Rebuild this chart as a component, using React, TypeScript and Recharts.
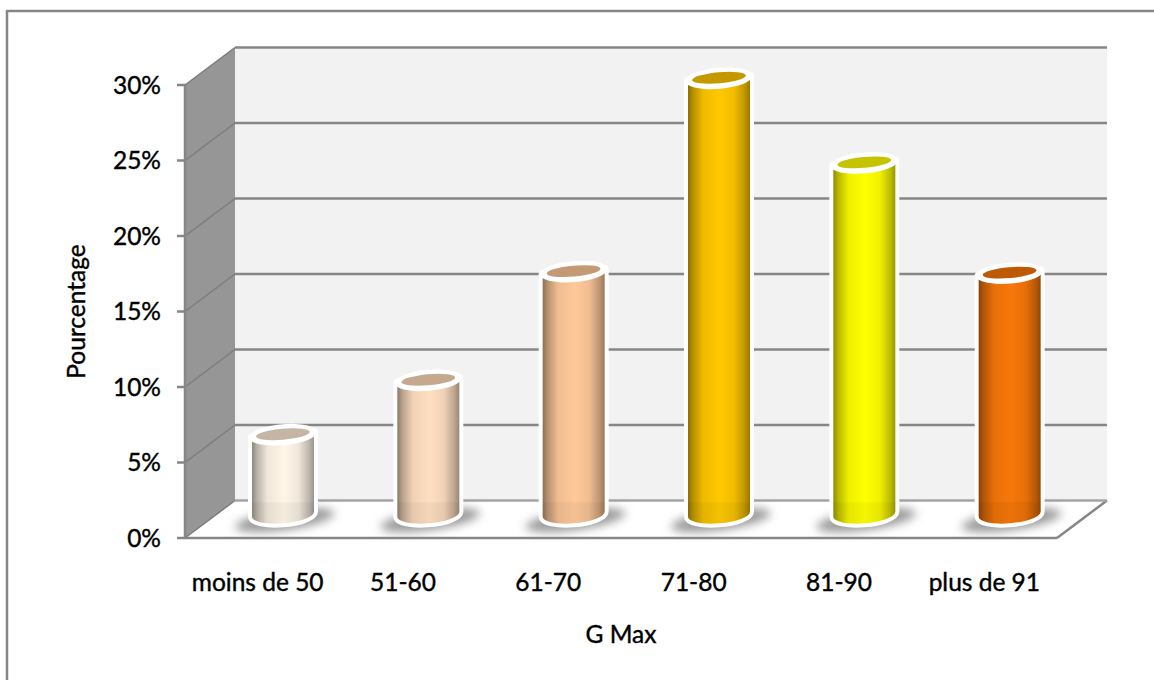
import React from 'react';
import { BarChart, Bar, XAxis, YAxis, CartesianGrid } from 'recharts';

const CATEGORIES = ['moins de 50', '51-60', '61-70', '71-80', '81-90', 'plus de 91'];
const SHARES = [5.6, 9.2, 16.4, 29.2, 23.6, 16.3];
const Y_TICKS = [0, 5, 10, 15, 20, 25, 30];
const BODY_COLORS = ['#FFF6E8', '#FFDFC2', '#FFC99A', '#FFC800', '#FFFF00', '#F7770A'];
const CAP_COLORS = ['#C4B5A5', '#C4A98F', '#C49A76', '#C49900', '#C6C400', '#BE5A05'];

const rows = CATEGORIES.map((name, i) => ({ name, share: SHARES[i] }));

const W = 1154;
const H = 680;
const PLOT = { left: 185, right: 1057, top: 85, bottom: 538 };
// oblique offset of the back wall relative to the front plane
const DEPTH_X = 50;
const DEPTH_Y = -37.5;
const GRID = '#868686';
const FONT = 'Lato, sans-serif';
const TILT = -5;

const shade = (hex: string, k: number) => {
  const n = parseInt(hex.slice(1), 16);
  const ch = (v: number) => Math.round(v * k).toString(16).padStart(2, '0');
  return `#${ch((n >> 16) & 255)}${ch((n >> 8) & 255)}${ch(n & 255)}`;
};

const Cylinder = (props: any) => {
  const { x, y, width, height, index } = props;
  const color = BODY_COLORS[index];
  // the bars stand halfway between front plane and back wall
  const cx = x + width / 2 + DEPTH_X / 2;
  const top = y + DEPTH_Y / 2;
  const base = y + height + DEPTH_Y / 2 - 5;
  const r = width / 2 + 1;
  const slope = 2.5;
  const bottomArc = `A${r},9 ${TILT} 0 0 ${cx + r},${base - slope}`;
  const bodyPath = `M${cx - r},${top + slope} L${cx - r},${base + slope} ${bottomArc} L${cx + r},${top - slope} Z`;
  const bandPath = `M${cx - r},${base - 12} L${cx - r},${base + slope} ${bottomArc} L${cx + r},${base - 12} Z`;
  const gradId = `cyl-${index}`;
  return (
    <g>
      <defs>
        <linearGradient id={gradId} x1="0" y1="0" x2="1" y2="0">
          <stop offset="0%" stopColor={shade(color, 0.55)} />
          <stop offset="8%" stopColor={shade(color, 0.72)} />
          <stop offset="25%" stopColor={shade(color, 0.94)} />
          <stop offset="52%" stopColor={color} />
          <stop offset="75%" stopColor={shade(color, 0.94)} />
          <stop offset="92%" stopColor={shade(color, 0.74)} />
          <stop offset="100%" stopColor={shade(color, 0.6)} />
        </linearGradient>
        <filter id={`blur-${index}`} x="-30%" y="-80%" width="160%" height="260%">
          <feGaussianBlur stdDeviation="5" />
        </filter>
      </defs>
      <ellipse cx={cx + 1} cy={base + 6} rx={50} ry={10} fill="#808080" fillOpacity={0.8} filter={`url(#blur-${index})`} transform={`rotate(-8 ${cx} ${base})`} />
      <path d={bodyPath} fill="#fff" stroke="#fff" strokeWidth={8} strokeLinejoin="round" />
      <path d={bodyPath} fill={`url(#${gradId})`} />
      <path d={bandPath} fill="#000" fillOpacity={0.04} />
      <ellipse cx={cx} cy={top} rx={r + 3} ry={10.5} fill="#fff" transform={`rotate(${TILT} ${cx} ${top})`} />
      <ellipse cx={cx} cy={top - 0.5} rx={r - 4} ry={5.5} fill={CAP_COLORS[index]} transform={`rotate(${TILT} ${cx} ${top})`} />
    </g>
  );
};

// grid rule on the back wall plus its slanted return across the left wall
const WallLine = (props: any) => {
  const { x1, x2, y1, index } = props;
  const floor = Math.abs(y1 - PLOT.bottom) < 1;
  return (
    <g key={index}>
      <line x1={x1} y1={y1} x2={x1 + DEPTH_X} y2={y1 + DEPTH_Y} stroke="#7c7c7c" strokeWidth={1.5} />
      <line x1={x1 + DEPTH_X} y1={y1 + DEPTH_Y} x2={x2 + DEPTH_X} y2={y1 + DEPTH_Y} stroke={floor ? '#a4a4a4' : GRID} strokeWidth={2.5} />
    </g>
  );
};

const Walls = () => {
  const { left: l, right: r, top: t, bottom: b } = PLOT;
  const dx = DEPTH_X;
  const dy = DEPTH_Y;
  return (
    <svg width={W} height={H} style={{ position: 'absolute', left: 0, top: 0 }}>
      <line x1={7} y1={11} x2={W} y2={11} stroke={GRID} strokeWidth={2.5} />
      <line x1={7} y1={10} x2={7} y2={H} stroke={GRID} strokeWidth={2.5} />
      <rect x={l + dx} y={t + dy} width={r - l} height={b - t} fill="#f2f2f2" />
      <polygon points={`${l},${t} ${l + dx},${t + dy} ${l + dx},${b + dy} ${l},${b}`} fill="#969696" />
      <line x1={r} y1={b} x2={r + dx} y2={b + dy} stroke={GRID} strokeWidth={2.5} />
    </svg>
  );
};

export default function App() {
  // thin stroke gives the labels a little more weight than Lato regular
  const text = { fill: '#000', stroke: '#000', strokeWidth: 0.4, fontSize: 24.5, fontWeight: 400, fontFamily: FONT };
  return (
    <div style={{ position: 'absolute', left: 0, top: 0, width: W, height: H, overflow: 'hidden', background: '#fff' }}>
      <Walls />
      <div style={{ position: 'absolute', left: 0, top: 0 }}>
        <BarChart
          width={W}
          height={H}
          data={rows}
          barSize={60}
          margin={{ top: PLOT.top, right: W - PLOT.right, bottom: 42, left: 85 }}
        >
          <CartesianGrid vertical={false} horizontal={(p: any) => <WallLine {...p} />} />
          <XAxis
            dataKey="name"
            height={100}
            interval={0}
            axisLine={{ stroke: GRID, strokeWidth: 2.5 }}
            tickLine={false}
            tick={text}
            tickMargin={30}
            label={{ value: 'G Max', position: 'insideTop', dy: 83, ...text }}
          />
          <YAxis
            width={100}
            domain={[0, 30]}
            ticks={Y_TICKS}
            tickFormatter={(v: number) => `${v}%`}
            axisLine={{ stroke: GRID, strokeWidth: 2.5 }}
            tickLine={{ stroke: GRID, strokeWidth: 2.5 }}
            tickSize={8}
            tickMargin={16}
            tick={text}
            label={{ value: 'Pourcentage', angle: -90, position: 'insideLeft', dx: -14, ...text, style: { textAnchor: 'middle' } }}
          />
          <Bar dataKey="share" shape={Cylinder} isAnimationActive={false} />
        </BarChart>
      </div>
    </div>
  );
}
